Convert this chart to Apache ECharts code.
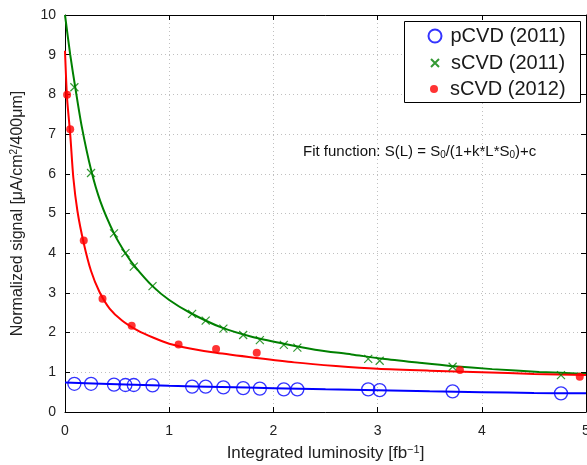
<!DOCTYPE html>
<html>
<head>
<meta charset="utf-8">
<script src="https://cdn.jsdelivr.net/npm/echarts@6/dist/echarts.min.js"></script>
<style>
html, body { margin: 0; padding: 0; background: #fff; }
#chart { width: 587px; height: 465px; }
</style>
</head>
<body>
<div id="chart"></div>
<script>
// measured points
const lumi2011 = [0.09, 0.25, 0.47, 0.58, 0.66, 0.84, 1.22, 1.35, 1.52, 1.71, 1.87, 2.10, 2.23, 2.91, 3.02, 3.72, 4.76]
const pcvd2011 = [0.71, 0.71, 0.69, 0.68, 0.68, 0.67, 0.64, 0.64, 0.62, 0.60, 0.59, 0.57, 0.57, 0.57, 0.55, 0.52, 0.47]
const scvd2011 = [8.18, 6.02, 4.50, 4.00, 3.66, 3.17, 2.47, 2.30, 2.10, 1.94, 1.81, 1.69, 1.62, 1.34, 1.29, 1.14, 0.93]
const lumi2012 = [0.02, 0.05, 0.18, 0.36, 0.64, 1.09, 1.45, 1.84, 3.79, 4.94]
const scvd2012 = [7.99, 7.12, 4.32, 2.85, 2.17, 1.70, 1.59, 1.49, 1.06, 0.89]

// fit curves
const fitLumiP = [0, 0.5, 1, 1.5, 2, 2.5, 3, 3.5, 4, 4.5, 5]
const fitP = [0.74, 0.70, 0.66, 0.63, 0.60, 0.57, 0.55, 0.52, 0.50, 0.48, 0.47]
const fitLumiS11 = [0, 0.05, 0.1, 0.16, 0.25, 0.34, 0.47, 0.58, 0.67, 0.84, 1.0, 1.2, 1.5, 1.8, 2.1, 2.4, 2.75, 3.05, 3.4, 3.7, 4.1, 4.55, 5.0]
const fitS11 = [10.0, 9.0, 8.15, 7.2, 6.1, 5.3, 4.5, 4.0, 3.67, 3.17, 2.82, 2.5, 2.13, 1.89, 1.72, 1.57, 1.45, 1.34, 1.24, 1.16, 1.08, 1.01, 0.96]
const fitLumiS12 = [0, 0.02, 0.05, 0.08, 0.12, 0.18, 0.25, 0.33, 0.43, 0.55, 0.7, 0.85, 1.0, 1.2, 1.45, 1.84, 2.2, 2.6, 3.0, 3.5, 4.0, 4.5, 5.0]
const fitS12 = [9.1, 7.9, 7.0, 5.9, 5.05, 4.25, 3.55, 3.03, 2.6, 2.3, 2.05, 1.87, 1.72, 1.6, 1.49, 1.36, 1.25, 1.16, 1.09, 1.04, 1.0, 0.96, 0.93]

const names = ['pCVD (2011)', 'sCVD (2011)', 'sCVD (2012)']
const FONT = 'Liberation Sans, Arial, sans-serif'
const pairs = (xs, ys) => xs.map((x, i) => [x, ys[i]])

const chart = echarts.init(document.getElementById('chart'))

const frameAxis = {
  type: 'value',
  axisLine: { show: true, onZero: false, lineStyle: { color: '#000', width: 1 } },
  axisTick: { show: true, inside: true, length: 5, lineStyle: { color: '#000' } },
}

const fitLine = (xs, ys, color) => ({
  type: 'line',
  data: pairs(xs, ys),
  showSymbol: false,
  smooth: 0.25,
  silent: true,
  lineStyle: { color: color, width: 2 },
  z: 2,
})

const legendItem = (name, top, size, pad) => ({
  data: [name],
  left: 429 - size / 2,
  top: top,
  itemWidth: size,
  itemHeight: size,
  textStyle: { fontFamily: FONT, fontSize: 20, color: '#1a1a1a', padding: [0, 0, 0, pad] },
  z: 5,
})

const option = {
  animation: false,
  backgroundColor: '#fff',
  grid: { left: 65, right: 1, top: 15, bottom: 53, outerBoundsMode: 'none' },
  xAxis: [
    Object.assign({}, frameAxis, {
      min: 0, max: 5, interval: 1,
      axisLabel: { fontFamily: FONT, fontSize: 14, color: '#222', margin: 12 },
      splitLine: { show: true, lineStyle: { type: [1, 3], color: '#c0c0c0' } },
      name: 'Integrated luminosity [fb{sup|−1}]',
      nameLocation: 'middle',
      nameGap: 32,
      nameTextStyle: {
        fontFamily: FONT, fontSize: 17, color: '#222',
        rich: { sup: { fontFamily: FONT, fontSize: 11, color: '#222', verticalAlign: 'top', padding: [0, 0, 8, 0] } },
      },
    }),
    Object.assign({}, frameAxis, {
      position: 'top', min: 0, max: 5, interval: 1,
      axisLabel: { show: false }, splitLine: { show: false },
    }),
  ],
  yAxis: [
    Object.assign({}, frameAxis, {
      min: 0, max: 10, interval: 1,
      axisLabel: { fontFamily: FONT, fontSize: 14, color: '#222', margin: 9 },
      splitLine: { show: true, lineStyle: { type: [1, 3], color: '#c0c0c0' } },
      name: 'Normalized signal [μA/cm{sup|2}/400μm]',
      nameLocation: 'middle',
      nameGap: 38,
      nameTextStyle: {
        fontFamily: FONT, fontSize: 16, color: '#222',
        rich: { sup: { fontFamily: FONT, fontSize: 10, color: '#222', verticalAlign: 'top', padding: [0, 0, 8, 0] } },
      },
    }),
    Object.assign({}, frameAxis, {
      position: 'right', min: 0, max: 10, interval: 1,
      axisLabel: { show: false }, splitLine: { show: false },
    }),
  ],
  legend: [
    legendItem(names[0], 21, 13, 4),
    legendItem(names[1], 48, 8, 7),
    legendItem(names[2], 74, 8, 7),
  ],
  graphic: [
    {
      type: 'rect',
      shape: { x: 404.5, y: 21.5, width: 176, height: 81 },
      style: { fill: '#fff', stroke: '#000', lineWidth: 1 },
      z: 3,
    },
    {
      type: 'text',
      left: 303,
      top: 144,
      style: {
        text: 'Fit function: S(L) = S{sub|0}/(1+k*L*S{sub|0})+c',
        fontFamily: FONT,
        fontSize: 15,
        fill: '#111',
        rich: { sub: { fontFamily: FONT, fontSize: 10, fill: '#111', verticalAlign: 'bottom', padding: [7, 0, 0, 0] } },
      },
      z: 3,
    },
  ],
  series: [
    fitLine(fitLumiP, fitP, '#0000ff'),
    fitLine(fitLumiS11, fitS11, '#008000'),
    fitLine(fitLumiS12, fitS12, '#ff0000'),
    {
      name: names[0],
      type: 'scatter',
      data: pairs(lumi2011, pcvd2011),
      symbol: 'circle',
      symbolSize: 13,
      itemStyle: { color: 'rgba(0,0,0,0)', borderColor: '#0000ff', borderWidth: 1.3 },
      z: 3,
    },
    {
      name: names[1],
      type: 'scatter',
      data: pairs(lumi2011, scvd2011),
      symbol: 'path://M0,0L10,10M10,0L0,10',
      symbolSize: 8,
      itemStyle: { color: 'rgba(0,0,0,0)', borderColor: '#008000', borderWidth: 1.2 },
      z: 3,
    },
    {
      name: names[2],
      type: 'scatter',
      data: pairs(lumi2012, scvd2012),
      symbol: 'circle',
      symbolSize: 8,
      itemStyle: { color: '#ff0000' },
      z: 3,
    },
  ],
}

chart.setOption(option)
</script>
</body>
</html>
